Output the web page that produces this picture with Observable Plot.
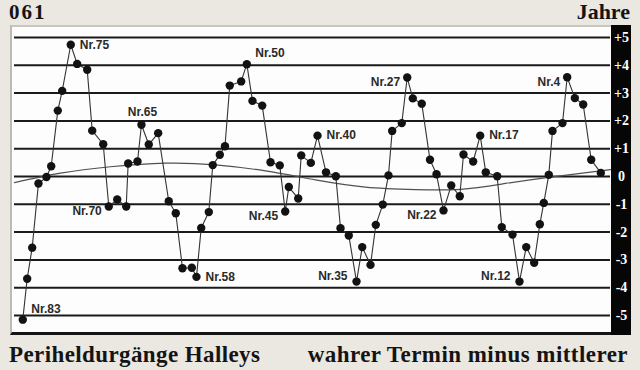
<!DOCTYPE html>
<html><head><meta charset="utf-8">
<script src="https://cdn.jsdelivr.net/npm/d3@7"></script>
<script src="https://cdn.jsdelivr.net/npm/@observablehq/plot@0.6"></script>
<style>
html,body{margin:0;padding:0;background:#ebe7e1;width:640px;height:370px;overflow:hidden}
#wrap{position:relative;width:640px;height:370px}
.serif{position:absolute;font-family:"Liberation Serif","DejaVu Serif",serif;font-weight:bold;color:#141414;white-space:nowrap}
#t1{left:9px;top:0px;font-size:21px;line-height:24px;letter-spacing:2px}
#t2{right:10px;top:0px;font-size:22px;line-height:24px}
#c1{left:9px;top:343px;font-size:23px;line-height:23px;letter-spacing:0.4px}
#c2{right:12px;top:343px;font-size:23px;line-height:23px;letter-spacing:0.45px}
#panel{position:absolute;left:10px;top:25px;width:601px;height:305px;background:#fdfdfd;border-top:2px solid #c9c6c1;border-left:2px solid #bdbab5;border-bottom:3px solid #151515;box-sizing:content-box}
#strip{position:absolute;left:611px;top:25px;width:20px;height:310px;background:#060606}
#chart{position:absolute;left:0;top:25px}
</style>
</head>
<body>
<div id="wrap">
  <div id="panel"></div>
  <div id="strip"></div>
  <div id="chart"></div>
  <div class="serif" id="t1">061</div>
  <div class="serif" id="t2">Jahre</div>
  <div class="serif" id="c1">Periheldurgänge Halleys</div>
  <div class="serif" id="c2">wahrer Termin minus mittlerer</div>
</div>
<script>
// Nummer der Wiederkehr (Nr.83 ... Nr.0)
const nummer = [83,82,81,80,79,78,77,76,75,74,73,72,71,70,69,68,67,66,65,64,63,62,61,60,59,58,57,56,55,54,53,52,51,50,49,48,47,46,45,44,43,42,41,40,39,38,37,36,35,34,33,32,31,30,29,28,27,26,25,24,23,22,21,20,19,18,17,16,15,14,13,12,11,10,9,8,7,6,5,4,3,2,1,0];
// horizontale Lage (in Umläufen ab Nr.83), aus dem Bild gelesen
const lage = [0.00,0.63,1.35,2.25,3.40,4.08,5.03,5.66,6.89,7.81,9.25,9.97,11.55,12.35,13.56,14.85,15.13,16.47,17.04,18.09,19.44,20.96,21.97,22.93,24.27,24.94,25.62,26.71,27.28,28.29,29.03,29.72,31.36,32.17,32.98,34.38,35.57,36.90,37.68,38.20,39.55,39.98,41.36,42.32,43.54,44.95,45.62,46.81,47.92,48.74,49.93,50.69,51.69,52.51,53.04,54.42,55.20,56.00,57.29,58.47,59.41,60.41,61.52,62.75,63.28,64.67,65.68,66.48,68.12,68.78,70.32,71.32,72.29,73.43,74.24,74.81,75.53,76.06,77.50,78.17,79.27,80.47,81.62,83.00];
// wahrer Termin minus mittlerer (Jahre)
const abweichung = [-5.15,-3.68,-2.56,-0.25,-0.02,0.37,2.37,3.08,4.74,4.05,3.84,1.65,1.16,-1.08,-0.83,-1.08,0.47,0.54,1.86,1.15,1.56,-0.89,-1.32,-3.30,-3.28,-3.61,-1.85,-1.28,0.41,0.78,1.09,3.27,3.42,4.04,2.72,2.55,0.51,0.40,-1.26,-0.38,-0.79,0.76,0.49,1.47,0.15,0.01,-1.86,-2.12,-3.78,-2.54,-3.18,-1.74,-1.01,0.04,1.64,1.92,3.56,2.81,2.62,0.60,0.08,-1.22,-0.32,-0.71,0.79,0.54,1.47,0.15,0.01,-1.82,-2.09,-3.78,-2.54,-3.10,-1.72,-0.95,0.06,1.64,1.92,3.57,2.82,2.59,0.60,0.13];
// langperiodische Ausgleichskurve, aus dem Bild gelesen
const kurveLage = [-1.19,5.41,12.59,20.49,27.67,34.85,42.03,49.21,56.39,62.85,69.31,75.77,84.39];
const kurveWert = [-0.22,0.12,0.35,0.48,0.42,0.20,-0.12,-0.38,-0.47,-0.46,-0.25,-0.02,0.25];
// Skala
const skala = [5,4,3,2,1,0,-1,-2,-3,-4,-5];
// beschriftete Wiederkehren
const beschriftRechts = [75,58,40,17];
const beschriftRechtsOben = [83,50];
const beschriftOben = [65];
const beschriftLinks = [70,27,4,22,45];
const beschriftLinksOben = [35,12];

const data = nummer.map((n,i)=>({nr:n, lage:lage[i], wert:abweichung[i]}));
const kurve = kurveLage.map((x,i)=>({lage:x, wert:kurveWert[i]}));
const byNr = new Map(data.map(d=>[d.nr,d]));
const pick = arr => arr.map(n=>byNr.get(n));
const lab = {x:"lage", y:"wert", text:d=>"Nr."+d.nr, fontFamily:'"Liberation Sans",Arial,sans-serif', fontWeight:"bold", fontSize:12, fill:"#2a2a2a"};

const chart = Plot.plot({
  width:640, height:310,
  marginLeft:14, marginRight:30, marginTop:12, marginBottom:20,
  style:{background:"transparent", overflow:"visible"},
  x:{domain:[-1.19,84.39], axis:null},
  y:{domain:[-5,5], axis:null},
  marks:[
    Plot.ruleY(skala,{stroke:"#1a1a1a", strokeWidth:2}),
    Plot.axisY(skala,{anchor:"right", label:null, tickSize:0, tickPadding:3, textAnchor:"middle", dx:8,
      tickFormat:d=>d>0?"+"+d:String(d), fill:"#ffffff",
      fontFamily:'"Liberation Serif","DejaVu Serif",serif', fontWeight:"bold", fontSize:14}),
    Plot.line(kurve,{x:"lage", y:"wert", curve:"natural", stroke:"#505050", strokeWidth:1.2}),
    Plot.line(data,{x:"lage", y:"wert", stroke:"#333", strokeWidth:1.1}),
    Plot.dot(data,{x:"lage", y:"wert", r:4.2, fill:"#121212"}),
    Plot.text(pick(beschriftRechts),{...lab, textAnchor:"start", dx:9, dy:0}),
    Plot.text(pick(beschriftRechtsOben),{...lab, textAnchor:"start", dx:8.5, dy:-11}),
    Plot.text(pick(beschriftOben),{...lab, textAnchor:"middle", dx:1, dy:-13}),
    Plot.text(pick(beschriftLinks),{...lab, textAnchor:"end", dx:-7, dy:5}),
    Plot.text(pick(beschriftLinksOben),{...lab, textAnchor:"end", dx:-9, dy:-5})
  ]
});
document.getElementById("chart").appendChild(chart);
</script>
</body></html>
